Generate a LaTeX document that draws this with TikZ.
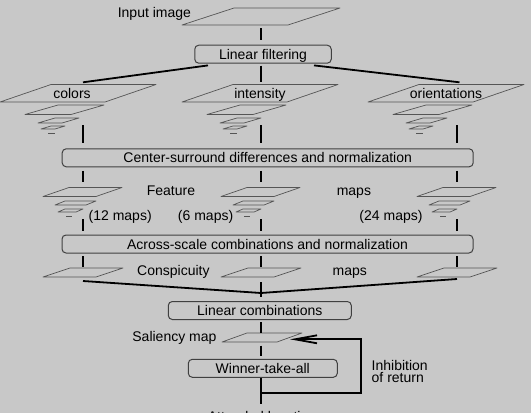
\documentclass[tikz,border=0pt]{standalone}
\usepackage{fontspec}
\setmainfont{Liberation Sans}
\usetikzlibrary{arrows.meta}

\definecolor{paper}{RGB}{200,200,200}
\definecolor{planeline}{RGB}{85,85,85}

% map plane: bottom-left x, bottom y, width, slant, height
\newcommand{\mapplane}[5]{%
  \draw[plane] (#1,#2) -- ++(#3,0) -- ++(#4,-#5) -- ++(-#3,0) -- cycle;}

\begin{document}
\begin{tikzpicture}[x=1pt,y=-1pt,
    stagebox/.style={draw=black!75, line width=1pt, rounded corners=4pt,
      inner sep=0pt, minimum height=18pt, text height=10pt, text depth=0pt,
      font=\fontsize{14}{16}\selectfont},
    maptext/.style={inner sep=0pt, text height=10pt, text depth=0pt,
      font=\fontsize{14}{16}\selectfont},
    plane/.style={draw=planeline, line width=0.7pt, line join=round},
    wire/.style={line width=1.8pt},
  ]
  % backdrop
  \useasboundingbox (0,0) rectangle (531,413);
  \fill[paper] (0,0) rectangle (531,413);

  % input image
  \mapplane{182}{25}{106}{52}{17}
  \node[maptext] (input) at (154.4,12.5) {Input image};
  \coordinate (input out) at (261,28);

  % processing stages
  \node[stagebox, minimum width=136.5pt] (filter) at (263,54.2) {Linear filtering};
  \node[stagebox, minimum width=411pt] (centsurr) at (267.7,157.8) {Center-surround differences and normalization};
  \node[stagebox, minimum width=411pt] (across) at (267.5,244) {Across-scale combinations and normalization};
  \node[stagebox, minimum width=183pt] (lincomb) at (259.8,310.5) {Linear combinations};
  \node[stagebox, minimum width=149pt] (wta) at (262.8,368.3) {Winner-take-all};

  % image pyramids
  \foreach \bx/\lx/\mapname/\tx in {0/83/colors/72, 182/261/intensity/260, 368/457/orientations/446}{
    \mapplane{\bx}{102}{105}{51}{17.5}
    \mapplane{\bx+25}{114.5}{46}{33}{9.5}
    \mapplane{\bx+38}{123}{24}{17}{5}
    \mapplane{\bx+41}{129}{14}{10}{3}
    \draw[plane] (\bx+48,133) -- ++(7,0);
    \node[maptext] (\mapname) at (\tx,93.2) {\mapname};
    \coordinate (\mapname out) at (\lx,125);
  }

  % feature and conspicuity maps
  \foreach \lx/\mapname in {83/colors, 261/intensity, 457/orientations}{
    \mapplane{\lx-40}{196.5}{53}{26}{9}
    \mapplane{\lx-28}{205}{31}{10}{4}
    \mapplane{\lx-25}{212}{18}{7}{3}
    \draw[plane] (\lx-17,216) -- ++(6,0);
    \mapplane{\lx-40}{277}{53}{27}{9}
    \coordinate (\mapname feat) at (\lx,182);
    \coordinate (\mapname feat out) at (\lx,219);
    \coordinate (\mapname consp) at (\lx,267);
  }
  \node[maptext] (feature) at (171,190.8) {Feature};
  \node[maptext] (featmaps) at (353.9,190.8) {maps};
  \node[maptext] (colors count) at (120.2,215.2) {(12 maps)};
  \node[maptext] (intensity count) at (205.6,215.2) {(6 maps)};
  \node[maptext] (orientations count) at (391,215.2) {(24 maps)};
  \node[maptext] (conspicuity) at (173.4,270.2) {Conspicuity};
  \node[maptext] (conspmaps) at (349.8,270.2) {maps};

  % saliency map
  \mapplane{222}{342}{55}{25}{9}
  \node[maptext] (saliency) at (174.4,336.7) {Saliency map};
  \coordinate (saliency in) at (290,339.3);
  \coordinate (saliency out) at (261,345.5);

  % output
  \node[maptext] (attended) at (262,416.2) {Attended location};
  \node[inner sep=0pt, anchor=west, align=left, font=\fontsize{14}{12}\selectfont]
    (inhibit) at (371.5,371.8) {Inhibition\\of return};

  % connectors
  \coordinate (filter left) at (208,65.4);
  \coordinate (filter right) at (314,65.4);
  \coordinate (colors top) at (83,82.3);
  \coordinate (intensity top) at (261,82.3);
  \coordinate (orientations top) at (459.5,82.3);
  \draw[wire, shorten >=4.4pt] (input out) -- (input out |- filter.north);
  \draw[wire] (filter left) -- (colors top);
  \draw[wire, shorten <=2pt] (intensity top |- filter.south) -- (intensity top);
  \draw[wire] (filter right) -- (orientations top);
  \foreach \mapname in {colors, intensity, orientations}{
    \draw[wire, shorten >=5pt] (\mapname out) -- (\mapname out |- centsurr.north);
    \draw[wire, shorten <=3.6pt] (\mapname out |- centsurr.south) -- (\mapname feat);
    \draw[wire, shorten >=3.5pt] (\mapname feat out) -- (\mapname feat out |- across.north);
    \draw[wire, shorten <=2.6pt] (\mapname feat out |- across.south) -- (\mapname consp);
  }

  % merge into linear combinations
  \coordinate (colors merge) at (83,281);
  \coordinate (intensity merge) at (261,282);
  \coordinate (orientations merge) at (457,279);
  \coordinate (merge) at (261,293);
  \draw[wire] (colors merge) -- (merge) -- (orientations merge);
  \draw[wire, shorten >=4.5pt] (intensity merge) -- (intensity merge |- lincomb.north);
  \draw[wire, shorten <=2.1pt] (saliency out |- lincomb.south) -- (saliency out |- 0,332.6);
  \draw[wire, shorten >=3.3pt] (saliency out) -- (saliency out |- wta.north);

  % winner-take-all and inhibition of return
  \coordinate (attended in) at (261,403.5);
  \coordinate (loop start) at (261,392.7);
  \coordinate (loop turn) at (361,339.3);
  \draw[wire] (attended in |- wta.south) -- (attended in);
  \draw[wire, -{Straight Barb[length=22pt,width=8pt]}] (loop start) -| (loop turn) -- (saliency in);
\end{tikzpicture}
\end{document}
